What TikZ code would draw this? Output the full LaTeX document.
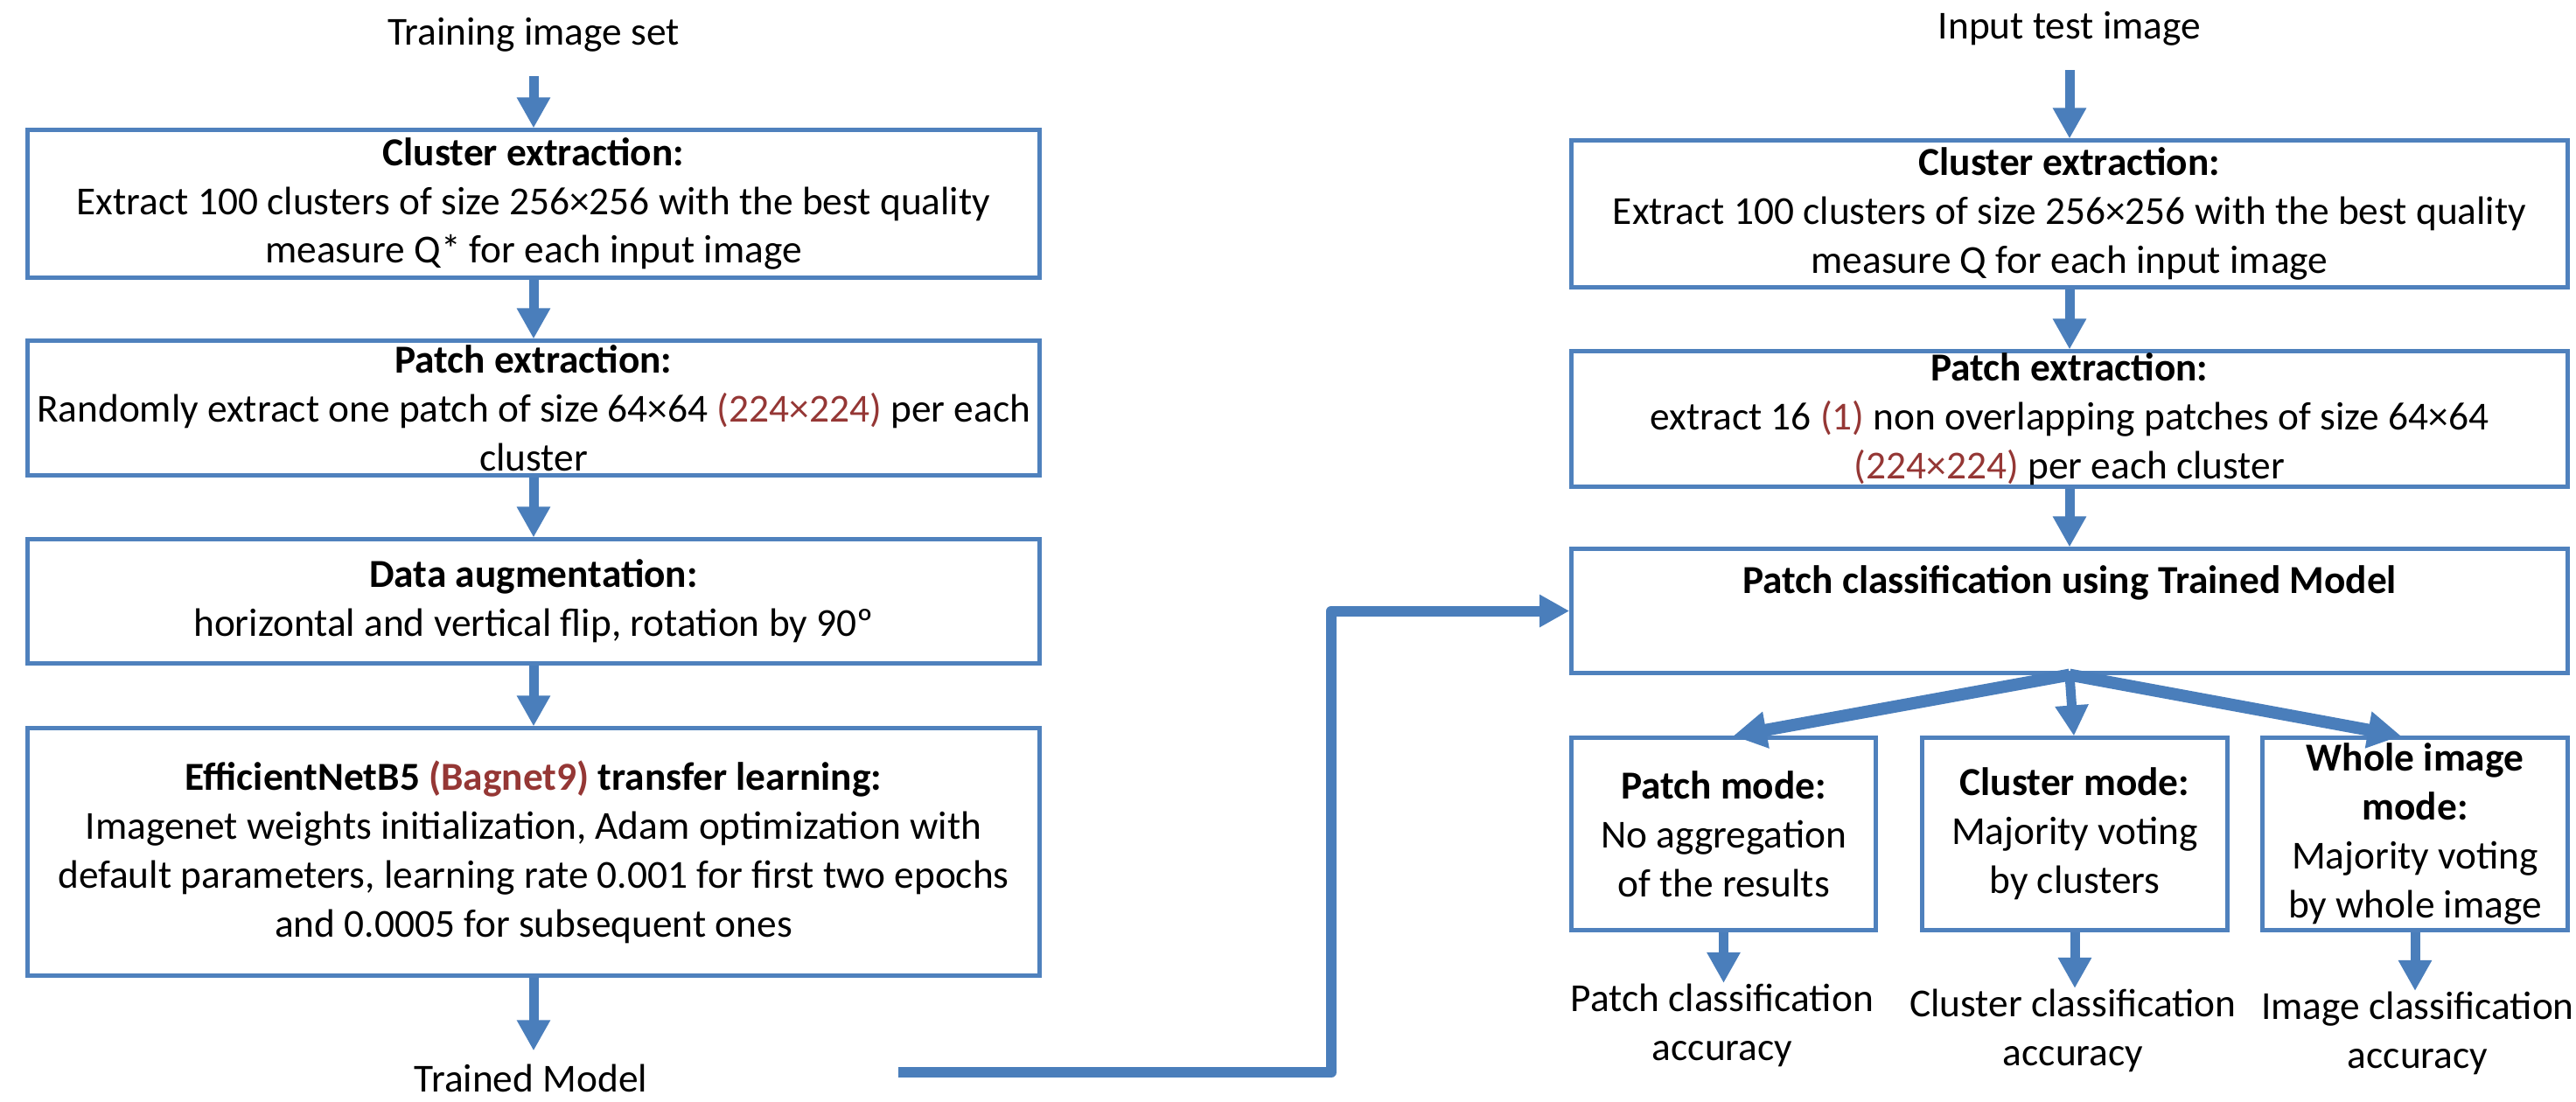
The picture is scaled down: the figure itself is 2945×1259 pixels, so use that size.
\documentclass[tikz,border=0pt]{standalone}
\usepackage{fontspec}
\setmainfont{Carlito}
\usetikzlibrary{arrows.meta,calc}
\definecolor{boxblue}{RGB}{79,129,189}
\definecolor{arrblue}{RGB}{74,126,187}
\definecolor{darkred}{RGB}{149,55,53}
\newcommand{\rd}[1]{\textcolor{darkred}{#1}}
\begin{document}
\begin{tikzpicture}[x=0.01cm,y=-0.01cm,
  every node/.style={font=\fontsize{12.9pt}{15.9pt}\selectfont},
  box/.style={draw=boxblue, line width=0.05cm, align=center, inner sep=0pt, fill=white},
  lbl/.style={align=center, inner sep=0pt},
  arr/.style={draw=arrblue, line width=0.11cm, -{Triangle[width=0.36cm,length=0.35cm]}},
  arrthick/.style={draw=arrblue, line width=0.14cm, -{Triangle[width=0.40cm,length=0.38cm]}},
  conn/.style={draw=arrblue, line width=0.12cm, line join=round, -{Triangle[width=0.35cm,length=0.34cm]}}]
\useasboundingbox[fill=white] (0,0) rectangle (2945,1259);

% left column
\node[lbl] (T1) at (610,40) {Training image set};
\node[box, minimum width=11.56cm, minimum height=1.68cm] (L1) at (610,233)
  {\textbf{Cluster extraction:}\\Extract 100 clusters of size 256×256 with the best quality\\measure Q* for each input image};
\node[box, minimum width=11.56cm, minimum height=1.53cm] (L2) at (610,466.5)
  {\textbf{Patch extraction:}\\Randomly extract one patch of size 64×64 \rd{(224×224)} per each\\cluster};
\node[box, minimum width=11.56cm, minimum height=1.41cm] (L3) at (610,687.5)
  {\textbf{Data augmentation:}\\horizontal and vertical flip, rotation by 90º};
\node[box, minimum width=11.56cm, minimum height=2.82cm] (L4) at (610,974)
  {\textbf{EfficientNetB5 \rd{(Bagnet9)} transfer learning:}\\Imagenet weights initialization, Adam optimization with\\default parameters, learning rate 0.001 for first two epochs\\and 0.0005 for subsequent ones};
\node[lbl] (TM) at (607,1233) {Trained Model};
\coordinate (c0) at (1027,1226);

\draw[arr, shorten <=0.27cm] (T1.south) -- (T1.south |- L1.north);
\draw[arr] (L1.south) -- (L2.north);
\draw[arr] (L2.south) -- (L3.north);
\draw[arr] (L3.south) -- (L4.north);
\draw[arr, shorten >=0.15cm] (L4.south) -- (L4.south |- TM.north);

% right column
\node[lbl] (T2) at (2366,33) {Input test image};
\node[box, minimum width=11.38cm, minimum height=1.67cm] (R1) at (2366,244.5)
  {\textbf{Cluster extraction:}\\Extract 100 clusters of size 256×256 with the best quality\\measure Q for each input image};
\node[box, minimum width=11.38cm, minimum height=1.54cm] (R2) at (2366,479)
  {\textbf{Patch extraction:}\\extract 16 \rd{(1)} non overlapping patches of size 64×64\\\rd{(224×224)} per each cluster};
\node[box, minimum width=11.38cm, minimum height=1.41cm] (R3) at (2366,698.5)
  {\textbf{Patch classification using Trained Model}\\\strut};
\node[box, minimum width=3.47cm, minimum height=2.19cm] (MA) at (1970.5,953.5)
  {\textbf{Patch mode:}\\No aggregation\\of the results};
\node[box, minimum width=3.48cm, minimum height=2.19cm] (MB) at (2372,953.5)
  {\textbf{Cluster mode:}\\Majority voting\\by clusters};
\node[box, minimum width=3.48cm, minimum height=2.19cm] (MC) at (2761,953.5)
  {\textbf{Whole image}\\\textbf{mode:}\\Majority voting\\by whole image};
\node[lbl] (AA) at (1969,1172) {Patch classification\\accuracy};
\node[lbl] (AB) at (2370,1178) {Cluster classification\\accuracy};
\node[lbl] (AC) at (2764,1181) {Image classification\\accuracy};

\draw[arr, shorten <=0.27cm] (T2.south) -- (T2.south |- R1.north);
\draw[arr] (R1.south) -- (R2.north);
\draw[arr] (R2.south) -- (R3.north);
\draw[arrthick] (R3.south) -- ([xshift=0.11cm]MA.north);
\draw[arr] (R3.south) -- ([xshift=-0.01cm]MB.north);
\draw[arrthick] (R3.south) -- ([xshift=-0.16cm]MC.north);
\draw[arr] (MA.south) -- (MA.south |- AA.north);
\draw[arr] (MB.south) -- (MB.south |- AB.north);
\draw[arr] (MC.south) -- (MC.south |- AC.north);

% connector trained model -> classification
\draw[conn] (c0) -- (1522,1226) |- (R3.west);
\end{tikzpicture}
\end{document}
